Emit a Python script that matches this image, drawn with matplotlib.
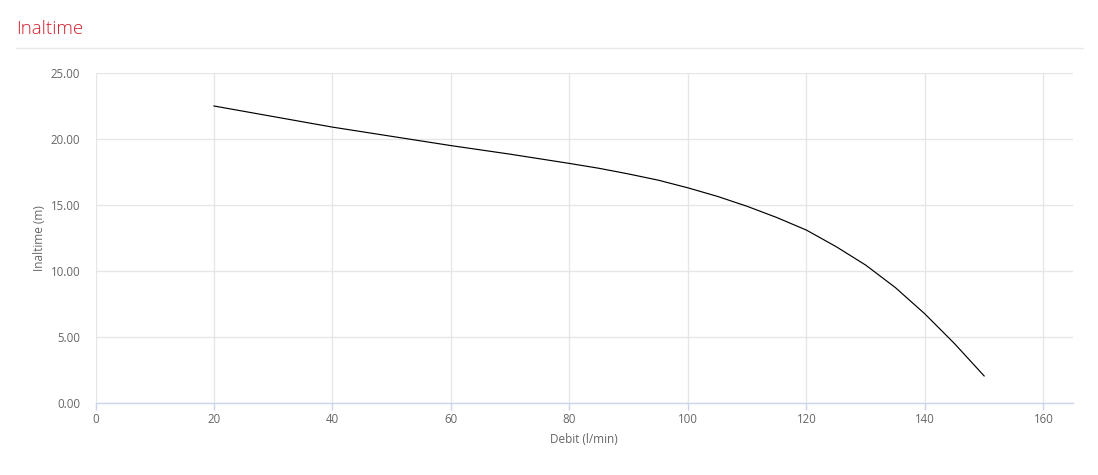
import matplotlib
matplotlib.use("Agg")
import matplotlib.pyplot as plt
from matplotlib.lines import Line2D

plt.rcParams['font.family'] = ['Open Sans', 'DejaVu Sans']

title = "Inaltime"
x_label = "Debit (l/min)"
y_label = "Inaltime (m)"
flow = [20, 30, 40, 50, 60, 70, 80, 85, 90, 95, 100, 105, 110, 115, 120, 125, 130, 135,
        140, 145, 150]
head = [22.5, 21.7, 20.9, 20.2, 19.5, 18.85, 18.15, 17.78, 17.35, 16.88, 16.3, 15.65,
        14.9, 14.05, 13.1, 11.85, 10.45, 8.75, 6.75, 4.5, 2.05]
x_ticks = [0, 20, 40, 60, 80, 100, 120, 140, 160]
y_ticks = [0, 5, 10, 15, 20, 25]

W, H = 1098, 475
fig = plt.figure(figsize=(W / 100, H / 100), dpi=100)
ax = fig.add_axes([95.5 / W, 1 - 403 / H, (1073 - 95.5) / W, (403 - 73) / H])

ax.plot(flow, head, color='black', linewidth=0.85)
ax.set_xlim(0, 165)
ax.set_ylim(0, 25)
ax.set_xticks(x_ticks)
ax.set_yticks(y_ticks)
ax.set_yticklabels([f"{v:.2f}" for v in y_ticks])
ax.grid(True, color='#e6e6e6', linewidth=1)
ax.set_axisbelow(True)
for s in ['top', 'right', 'left']:
    ax.spines[s].set_visible(False)
ax.spines['bottom'].set_color('#ccd6eb')
ax.spines['bottom'].set_linewidth(1)
ax.tick_params(axis='x', colors='#ccd6eb', length=5, width=1, labelcolor='#666666',
               labelsize=8.3, pad=2)
ax.tick_params(axis='y', length=0, labelcolor='#666666', labelsize=8.3, pad=11)
ax.set_xlabel(x_label, color='#666666', fontsize=8.5, labelpad=5)
ax.set_ylabel(y_label, color='#666666', fontsize=8.5, labelpad=3)

fig.text(16 / W, 1 - 29 / H, title, color='#d5202e', fontsize=13.5, fontweight='light',
         va='center', ha='left')
fig.add_artist(Line2D([16 / W, 1083 / W], [1 - 48 / H, 1 - 48 / H], color='#e8e8e8',
                      linewidth=1, transform=fig.transFigure))

fig.savefig('out.png', dpi=100, facecolor='white')
